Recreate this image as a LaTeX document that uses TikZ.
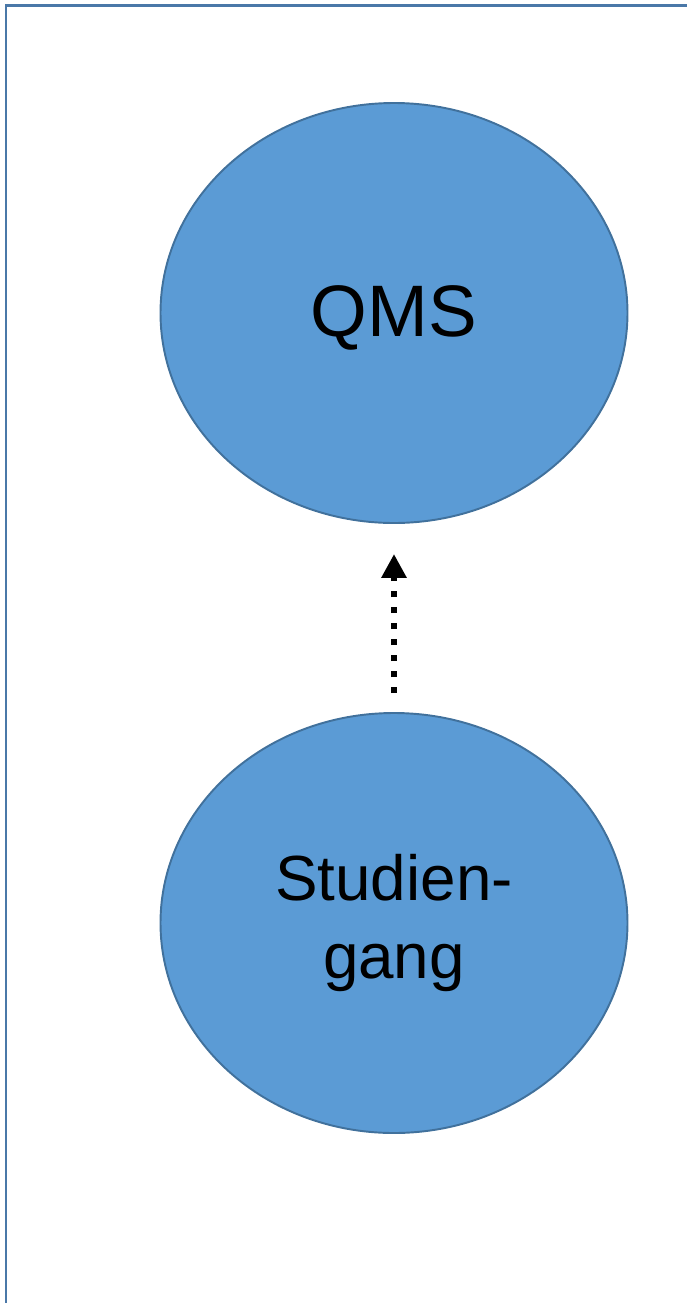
\documentclass[tikz,border=0pt]{standalone}
\usepackage{fontspec}
\setmainfont{Liberation Sans}
\usetikzlibrary{shapes.geometric,arrows.meta}
\definecolor{fillblue}{HTML}{5B9BD5}
\definecolor{edgeblue}{HTML}{41719C}
\definecolor{frameblue}{HTML}{4A78A8}
\tikzset{
  unit/.style={ellipse, draw=edgeblue, fill=fillblue, line width=1.1pt,
    minimum width=9.34cm, minimum height=8.4cm, inner sep=0pt, align=center},
  dotarrow/.style={line width=0.12cm, dash pattern=on 0.12cm off 0.2cm,
    -{Triangle[width=0.48cm,length=0.48cm]}}
}
\begin{document}
\begin{tikzpicture}
  \useasboundingbox (0,0) rectangle (13.74,-26.06);
  % frame
  \draw[frameblue, line width=1.4pt] (0.12,-26.06) -- (0.12,-0.106) -- (13.74,-0.106);
  \draw
    (7.88,-6.26) node[unit, font=\fontsize{41.5}{46}\selectfont] (qms){\raisebox{-0.1cm}[\height][\depth]{QMS}}
    (7.88,-18.46) node[unit, font=\fontsize{36.3}{44}\selectfont] (stud){Studien-\\gang};
  \begin{scope}[dotarrow]
    \draw[shorten <=0.38cm, shorten >=0.6cm] (stud) to (qms);
  \end{scope}
\end{tikzpicture}
\end{document}
